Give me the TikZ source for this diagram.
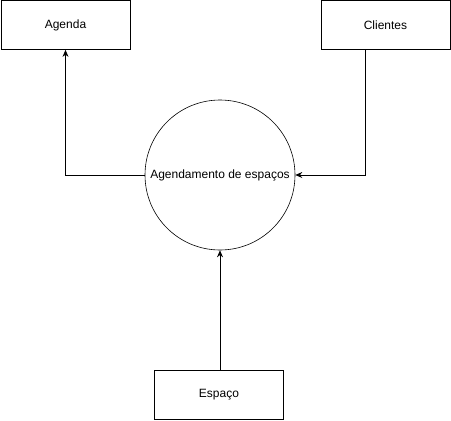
\documentclass[tikz,border=0pt]{standalone}
\usepackage{fontspec}
\setmainfont{Liberation Sans}
\usetikzlibrary{arrows.meta}
\begin{document}
\begin{tikzpicture}[x=1pt, y=-1pt,
    entity/.style={draw, line width=0.8pt, minimum width=129pt, minimum height=49pt, inner sep=0pt, font=\fontsize{12}{14}\selectfont},
    process/.style={draw, circle, line width=0.6pt, minimum size=150pt, inner sep=0pt, font=\fontsize{12}{14}\selectfont},
    flow/.style={line width=0.8pt, -{Stealth[length=7pt, width=6pt]}}]
    \useasboundingbox (0,0) rectangle (451,421);

    \node [entity] (agenda) at (65.5,25) {Agenda};
    \node [entity] (clientes) at (385.5,25) {Clientes};
    \node [process] (proc) at (220,175) {Agendamento de espaços};
    \node [entity] (espaco) at (219,395) {Espaço};

    \coordinate (cliout) at (365,49.5);

    \draw [flow] (proc.west) -| (agenda.south);
    \draw [flow] (cliout) |- (proc.east);
    \draw [flow] (espaco.north -| proc.south) -- (proc.south);
\end{tikzpicture}
\end{document}
